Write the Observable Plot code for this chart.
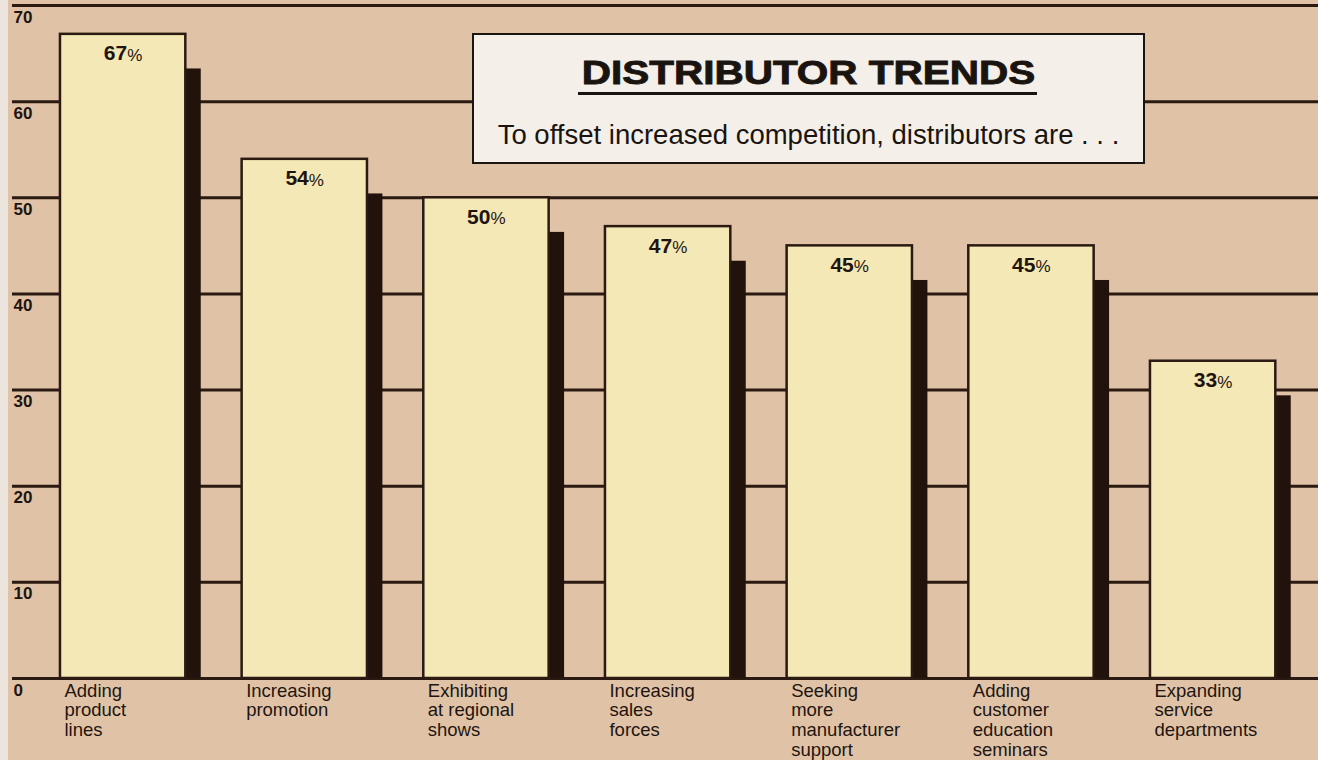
<!DOCTYPE html>
<html><head><meta charset="utf-8">
<script src="https://cdn.jsdelivr.net/npm/d3@7"></script>
<script src="https://cdn.jsdelivr.net/npm/@observablehq/plot@0.6"></script>
<style>
html,body{margin:0;padding:0;background:#e0c3a6;}
#wrap{position:relative;width:1318px;height:760px;overflow:hidden;font-family:"Liberation Sans",Arial,sans-serif;}
#edge{position:absolute;left:0;top:0;width:8px;height:760px;background:#ebe5de;}
#titlebox{position:absolute;left:472px;top:33px;width:673px;height:131px;box-sizing:border-box;border:2.5px solid #1c1410;background:#f4efe9;}
#title{position:absolute;left:0;right:0;top:20px;text-align:center;font-weight:bold;font-size:34px;color:#1a1410;line-height:1;transform:scaleX(1.19);-webkit-text-stroke:0.9px #1a1410;white-space:nowrap;}
#uline{position:absolute;left:104px;width:459px;top:57px;height:3px;background:#1a1410;}
#sub{position:absolute;left:0;right:0;top:86px;text-align:center;font-size:27.5px;color:#1a1410;line-height:1;white-space:nowrap;}
</style></head>
<body>
<div id="wrap">
  <div id="edge"></div>
  <div id="chart"></div>
  <div id="titlebox">
    <div id="title">DISTRIBUTOR TRENDS</div>
    <div id="uline"></div>
    <div id="sub">To offset increased competition, distributors are . . .</div>
  </div>
</div>
<script>
const categories = [
  "Adding\nproduct\nlines",
  "Increasing\npromotion",
  "Exhibiting\nat regional\nshows",
  "Increasing\nsales\nforces",
  "Seeking\nmore\nmanufacturer\nsupport",
  "Adding\ncustomer\neducation\nseminars",
  "Expanding\nservice\ndepartments"
];
const values = [67, 54, 50, 47, 45, 45, 33];
const yTicks = [0, 10, 20, 30, 40, 50, 60, 70];

const data = values.map((v, i) => ({i, v, cat: categories[i]}));
const barW = 0.69, shW = 0.085, shadowDrop = 3.6;
const ink = "#2a1a12";

const chart = Plot.plot({
  width: 1318, height: 760,
  marginLeft: 12, marginRight: 0, marginTop: 5, marginBottom: 82,
  x: {type: "linear", domain: [-0.264, 6.925], axis: null},
  y: {domain: [0, 70], axis: null},
  style: {background: "transparent", fontFamily: "'Liberation Sans', Arial, sans-serif", color: "#1a1410"},
  marks: [
    Plot.ruleY(yTicks, {stroke: ink, strokeWidth: 3}),
    Plot.text(yTicks, {y: d => d, frameAnchor: "left", text: d => String(d), textAnchor: "start", lineAnchor: "top", dx: 1, dy: 5, fontSize: 17, fontWeight: "bold", fill: "#1e1410"}),
    Plot.rect(data, {x1: d => d.i + barW, x2: d => d.i + barW + shW, y1: 0, y2: d => d.v - shadowDrop, fill: "#22120c"}),
    Plot.rect(data, {x1: d => d.i, x2: d => d.i + barW, y1: 0, y2: "v", fill: "#f4e8b6", stroke: ink, strokeWidth: 2.5}),
    Plot.text(data, {x: d => d.i + barW / 2, y: "v", text: d => String(d.v), textAnchor: "end", lineAnchor: "top", dx: 4, dy: 11, fontSize: 21, fontWeight: "bold", fill: "#1e1410"}),
    Plot.text(data, {x: d => d.i + barW / 2, y: "v", text: d => "%", textAnchor: "start", lineAnchor: "top", dx: 4, dy: 14.5, fontSize: 17, fill: "#1e1410"}),
    Plot.text(data, {x: d => d.i, y: 0, text: "cat", textAnchor: "start", lineAnchor: "top", dx: 4, dy: 4, fontSize: 18.5, lineHeight: 1.07, fill: "#1e1410"})
  ]
});
document.getElementById("chart").appendChild(chart);
</script>
</body></html>
